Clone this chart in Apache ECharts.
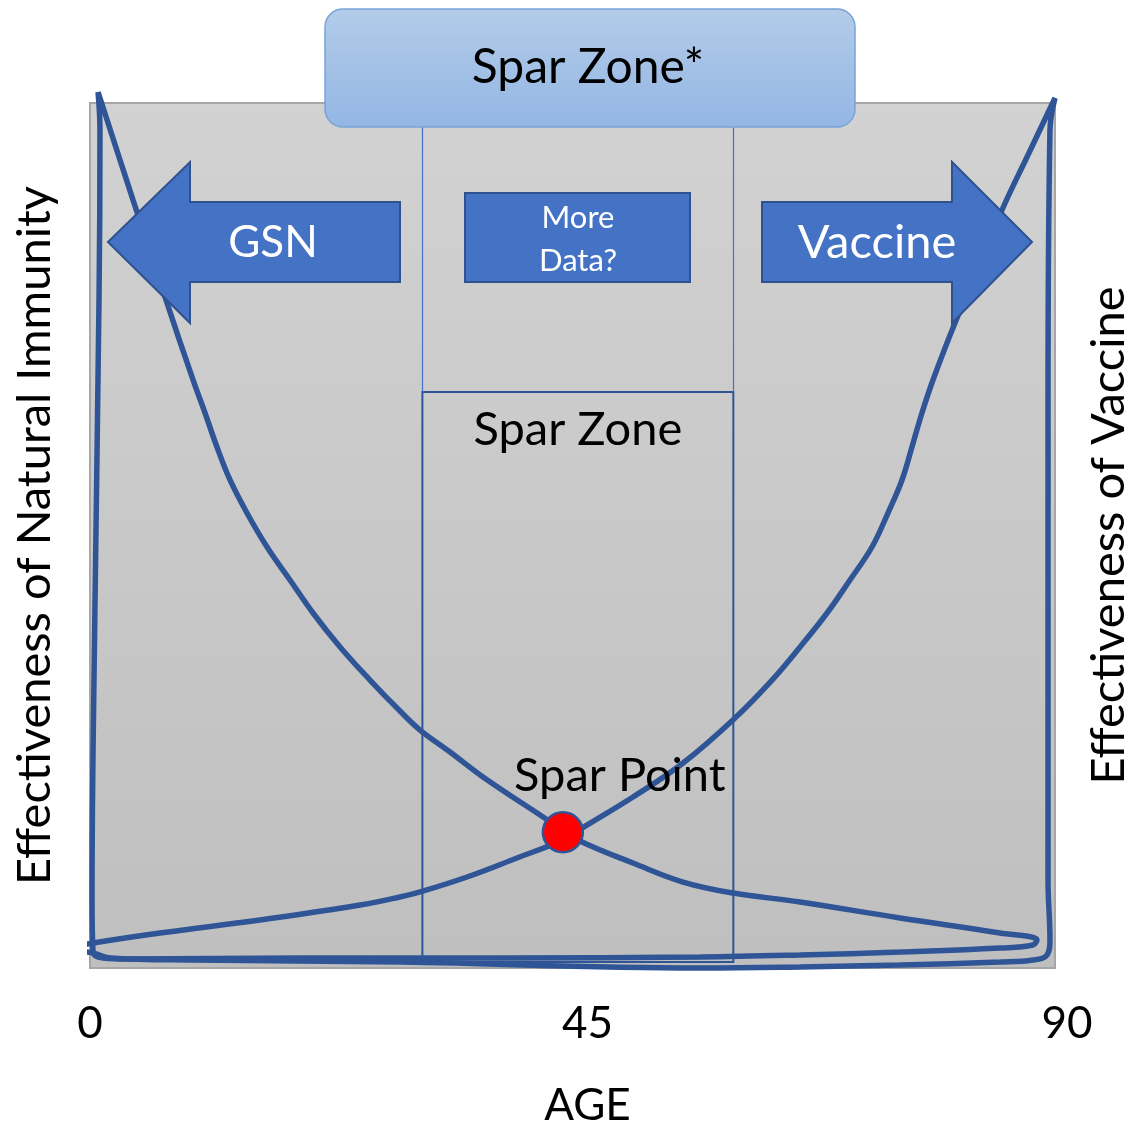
<!DOCTYPE html>
<html>
<head>
<meta charset="utf-8">
<script src="https://cdn.jsdelivr.net/npm/echarts@6/dist/echarts.min.js"></script>
<style>
html,body{margin:0;padding:0;background:#fff;}
#main{width:1134px;height:1126px;}
</style>
</head>
<body>
<div id="main"></div>
<script>
// ---- data ----
const ageTicks = [0, 45, 90];
// Effectiveness of natural immunity (hand-drawn closed loop: falling curve, bottom edge, left edge)
const naturalImmunity = [
  [0.75,101.27],[4.01,88.79],[7.09,77.23],[9.61,67.98],[10.73,64.16],[11.84,60.23],[13.06,56.42],
  [14.64,52.60],[16.51,48.67],[18.65,44.86],[20.80,41.04],[23.32,37.11],[26.11,33.29],[28.91,29.71],
  [30.78,27.51],[33.58,24.97],[36.65,22.08],[42.25,17.46],[44.11,15.95],[45.89,14.57],[50.64,12.14],
  [55.31,9.94],[59.97,8.67],[66.22,7.63],[75.54,5.78],[84.87,4.05],[88.32,3.24],
  [87.95,2.66],[84.87,2.31],[75.54,1.85],[66.22,1.50],[56.89,1.27],[38.24,1.16],[19.59,1.16],
  [3.45,1.04],[1.21,1.16],[0.28,1.85],[0.19,7.86],[0.47,42.54],[0.84,77.23],[0.93,96.88],[0.75,101.27]
];
// Effectiveness of vaccine (hand-drawn closed loop: rising curve, right edge, bottom edge)
const vaccineEffect = [
  [-1.87,2.31],[0.28,2.89],[6.53,4.05],[15.85,5.55],[25.18,7.28],[28.91,8.21],[30.78,8.79],
  [35.16,10.52],[39.82,12.72],[44.11,14.80],[45.89,16.18],[50.64,19.77],[55.31,23.70],
  [60.15,28.90],[63.61,33.29],[66.22,37.11],[68.74,41.04],[70.88,44.86],[72.93,48.67],[74.42,52.60],
  [75.73,56.42],[76.66,60.23],[77.59,64.16],[78.62,67.98],[80.67,74.57],[83.00,81.27],[85.06,87.63],
  [87.48,93.99],[90.0,100.58],
  [89.53,96.88],[89.35,65.66],[89.35,10.17],[89.53,3.24],[89.25,1.50],[87.95,0.92],[84.87,0.69],
  [75.54,0.35],[66.22,0.12],[56.89,0.0],[28.91,0.69],[9.61,0.92],[1.87,1.16],[0.28,1.73],
  [-0.93,1.97],[-1.87,2.31]
];
const sparPoint = [[44.1, 15.7]];
const sparZoneAges = [31, 60];
const sparZoneTop = 66.6;
const sparZoneBottom = 0.7;

const FONT = 'Lato';
const chart = echarts.init(document.getElementById('main'), null, {renderer:'canvas'});

const option = {
  animation: false,
  grid: {
    left: 90, right: 79, top: 103, bottom: 158,
    containLabel: false, outerBoundsMode: 'none',
    show: true,
    backgroundColor: new echarts.graphic.LinearGradient(0,0,0,1,[
      {offset:0,color:'#d2d2d2'},{offset:1,color:'#bfbfbf'}]),
    borderColor: '#a6a6a6', borderWidth: 2
  },
  xAxis: {
    type: 'value', min: 0, max: 90, interval: 45,
    axisLine: {show:false}, axisTick: {show:false}, splitLine: {show:false},
    name: 'AGE', nameLocation: 'middle', nameGap: 116,
    nameTextStyle: {fontFamily: FONT, fontSize: 44, color: '#000', padding: [0,0,0,30]},
    axisLabel: {
      margin: 34, showMinLabel: true, showMaxLabel: true,
      fontFamily: FONT, fontSize: 44, color: '#000',
      formatter: function(v){
        if (v === ageTicks[0]) return '{a|' + v + '}';
        if (v === ageTicks[1]) return '{b|' + v + '}';
        return '{c|' + v + '}';
      },
      rich: {
        a: {fontFamily: FONT, fontSize: 44, color:'#000', padding:[0,0,12,0]},
        b: {fontFamily: FONT, fontSize: 44, color:'#000', padding:[0,0,0,30]},
        c: {fontFamily: FONT, fontSize: 44, color:'#000', padding:[0,0,0,24]}
      }
    }
  },
  yAxis: [
    {
      type: 'value', min: 0, max: 100, position: 'left',
      axisLine: {show:false}, axisTick: {show:false}, splitLine: {show:false}, axisLabel: {show:false},
      name: 'Effectiveness of Natural Immunity', nameLocation: 'middle', nameGap: 32, nameRotate: 90,
      nameTextStyle: {fontFamily: FONT, fontSize: 47, color: '#000'}
    },
    {
      type: 'value', min: 0, max: 100, position: 'right',
      axisLine: {show:false}, axisTick: {show:false}, splitLine: {show:false}, axisLabel: {show:false},
      name: 'Effectiveness of Vaccine', nameLocation: 'middle', nameGap: 30, nameRotate: 90,
      nameTextStyle: {fontFamily: FONT, fontSize: 47, color: '#000'}
    }
  ],
  series: [
    {
      name: 'Natural Immunity', type: 'line', data: naturalImmunity,
      showSymbol: false, smooth: 0.4, clip: false, z: 3,
      lineStyle: {color: '#2F5597', width: 5.5},
      markLine: {
        silent: true, symbol: ['none','none'], label: {show:false},
        lineStyle: {color: '#4472C4', width: 1.2, type: 'solid'},
        data: [
          [{coord:[sparZoneAges[0], sparZoneTop]}, {coord:[sparZoneAges[0], 100]}],
          [{coord:[sparZoneAges[1], sparZoneTop]}, {coord:[sparZoneAges[1], 100]}]
        ]
      },
      markArea: {
        silent: true,
        itemStyle: {color: 'rgba(0,0,0,0)', borderColor: '#2F5597', borderWidth: 2},
        label: {show: true, position: 'insideTop', distance: 15, fontFamily: FONT, fontSize: 47, color: '#000'},
        data: [[{name: 'Spar Zone', coord:[sparZoneAges[0], sparZoneBottom]}, {coord:[sparZoneAges[1], sparZoneTop]}]]
      }
    },
    {
      name: 'Vaccine', type: 'line', data: vaccineEffect,
      showSymbol: false, smooth: 0.4, clip: false, z: 3,
      lineStyle: {color: '#2F5597', width: 5.5}
    },
    {
      name: 'Spar Point', type: 'scatter', data: sparPoint, z: 5,
      symbolSize: 40,
      itemStyle: {color: '#ff0000', opacity: 1, borderColor: '#2F5597', borderWidth: 2.5},
      label: {show: true, formatter: 'Spar Point', position: 'top', offset: [57, -7],
        fontFamily: FONT, fontSize: 47, color: '#000'}
    }
  ],
  graphic: [
    {
      type: 'rect', z: 100,
      shape: {x: 325, y: 9, width: 530, height: 118, r: 18},
      style: {
        fill: new echarts.graphic.LinearGradient(0,0,0,1,[
          {offset:0,color:'#b3cce9'},{offset:1,color:'#93b6e3'}]),
        stroke: '#7aa3d8', lineWidth: 1.5
      }
    },
    {
      type: 'text', z: 101, x: 588, y: 68,
      style: {text: 'Spar Zone*', fontFamily: FONT, fontSize: 48, fill: '#000', align: 'center', verticalAlign: 'middle'}
    },
    {
      type: 'polygon', z: 100,
      shape: {points: [[108,242],[190,162],[190,202],[400,202],[400,282],[190,282],[190,323]]},
      style: {fill: '#4472C4', stroke: '#2F528F', lineWidth: 2}
    },
    {
      type: 'text', z: 101, x: 273, y: 243,
      style: {text: 'GSN', fontFamily: FONT, fontSize: 44, fill: '#fff', align: 'center', verticalAlign: 'middle'}
    },
    {
      type: 'polygon', z: 100,
      shape: {points: [[1032,242],[952,162],[952,202],[762,202],[762,282],[952,282],[952,323]]},
      style: {fill: '#4472C4', stroke: '#2F528F', lineWidth: 2}
    },
    {
      type: 'text', z: 101, x: 877, y: 243,
      style: {text: 'Vaccine', fontFamily: FONT, fontSize: 47, fill: '#fff', align: 'center', verticalAlign: 'middle'}
    },
    {
      type: 'rect', z: 100,
      shape: {x: 465, y: 193, width: 225, height: 89},
      style: {fill: '#4472C4', stroke: '#2F528F', lineWidth: 2}
    },
    {
      type: 'text', z: 101, x: 578, y: 239,
      style: {text: 'More\nData?', fontFamily: FONT, fontSize: 31, lineHeight: 43, fill: '#fff', align: 'center', verticalAlign: 'middle'}
    }
  ]
};
chart.setOption(option);
</script>
</body>
</html>
